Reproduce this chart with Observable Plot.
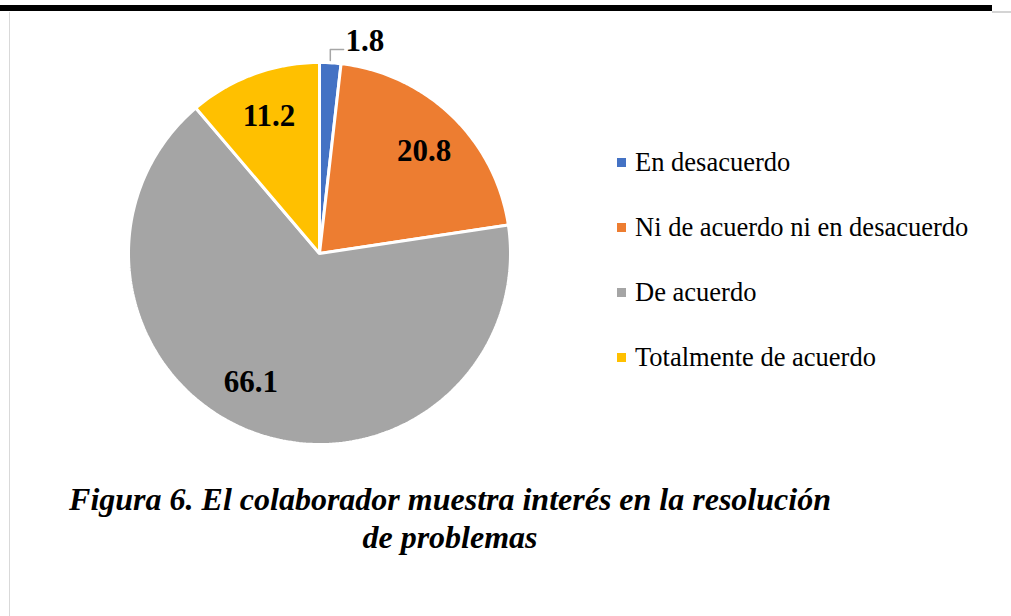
<!DOCTYPE html>
<html>
<head>
<meta charset="utf-8">
<script src="https://cdn.jsdelivr.net/npm/d3@7"></script>
<script src="https://cdn.jsdelivr.net/npm/@observablehq/plot@0.6"></script>
<style>
  html, body { margin: 0; padding: 0; background: #fff; }
  body { width: 1011px; height: 616px; position: relative; overflow: hidden; font-family: 'Liberation Serif'; }
  #topbar { position: absolute; left: 0; top: 5px; width: 992px; height: 6px; background: #000; }
  #topbar2 { position: absolute; left: 992px; top: 11px; width: 19px; height: 2px; background: #d4d4d4; }
  #leftline { position: absolute; left: 9px; top: 12px; width: 1px; height: 604px; background: #d9d9d9; }
  #chart { position: absolute; left: 0; top: 0; }
  #legend { position: absolute; left: 617px; top: 0; }
  .item { position: absolute; left: 0; white-space: nowrap; font-size: 26.5px; line-height: 26px; color: #000; font-family: 'Liberation Serif'; }
  .sw { position: absolute; left: 0; top: 9px; width: 9px; height: 9px; }
  .lbl { position: absolute; left: 18px; top: 0; font-family: 'Liberation Serif'; }
  #caption { position: absolute; left: 0; width: 900px; top: 480px; text-align: center; font-family: 'Liberation Serif'; font-weight: bold; font-style: italic; font-size: 32px; line-height: 38px; color: #000; }
</style>
</head>
<body>
<div id="topbar"></div>
<div id="topbar2"></div>
<div id="leftline"></div>
<div id="chart"></div>
<div id="legend"></div>
<div id="caption">Figura 6. El colaborador muestra interés en la resolución<br>de problemas</div>
<script>
// ---- data ----
const categories = ["En desacuerdo", "Ni de acuerdo ni en desacuerdo", "De acuerdo", "Totalmente de acuerdo"];
const values = [1.8, 20.8, 66.1, 11.2];
const labels = ["1.8", "20.8", "66.1", "11.2"];
const colors = ["#4472C4", "#ED7D31", "#A5A5A5", "#FFC000"];

// ---- layout ----
const W = 1011, H = 470;
const CX = 319, CY = 253, R = 191; // pixel center and radius
const xDomain = [-CX / R, (W - CX) / R];
const yDomain = [-(H - CY) / R, CY / R];
// small angular nudges (radians) that mimic the spreadsheet's label placement
const labelNudge = {"66.1": 0.13, "20.8": 0.03, "11.2": 0.0};
const labelRadius = 0.765;

// ---- pie geometry (angles clockwise from 12 o'clock) ----
const total = d3.sum(values);
let acc = 0;
const slices = values.map((v, i) => {
  const a0 = acc / total * 2 * Math.PI;
  acc += v;
  const a1 = acc / total * 2 * Math.PI;
  return {cat: categories[i], value: v, label: labels[i], a0, a1, mid: (a0 + a1) / 2};
});

const polyPts = [];
for (const s of slices) {
  polyPts.push({cat: s.cat, x: 0, y: 0});
  const n = Math.max(4, Math.ceil((s.a1 - s.a0) / (Math.PI / 180)));
  for (let k = 0; k <= n; k++) {
    const a = s.a0 + (s.a1 - s.a0) * k / n;
    polyPts.push({cat: s.cat, x: Math.sin(a), y: Math.cos(a)});
  }
}

const inside = slices.filter(s => s.value >= 5).map(s => {
  const a = s.mid + (labelNudge[s.label] || 0);
  return {label: s.label, x: labelRadius * Math.sin(a), y: labelRadius * Math.cos(a)};
});
const small = slices.filter(s => s.value < 5);
const leaderPts = [];
const outside = [];
small.forEach((s, i) => {
  const ex = Math.sin(s.mid), ey = Math.cos(s.mid);
  leaderPts.push({g: i, x: ex, y: ey + 0.012});
  leaderPts.push({g: i, x: ex, y: 1.068});
  leaderPts.push({g: i, x: 0.126, y: 1.068});
  outside.push({label: s.label, x: 0.238, y: 1.11});
});

const plot = Plot.plot({
  width: W,
  height: H,
  margin: 0,
  style: {fontFamily: "Liberation Serif", background: "transparent"},
  x: {domain: xDomain, range: [0, W], axis: null},
  y: {domain: yDomain, range: [H, 0], axis: null},
  color: {domain: categories, range: colors},
  marks: [
    Plot.line(polyPts, {x: "x", y: "y", z: "cat", fill: "cat", stroke: "white", strokeWidth: 3, curve: "linear-closed", strokeLinejoin: "miter"}),
    Plot.line(leaderPts, {x: "x", y: "y", z: "g", stroke: "#a6a6a6", strokeWidth: 1.5}),
    Plot.text(inside, {x: "x", y: "y", text: "label", fontSize: 31, fontWeight: "bold", fontFamily: "Liberation Serif", fill: "#000"}),
    Plot.text(outside, {x: "x", y: "y", text: "label", fontSize: 31, fontWeight: "bold", fontFamily: "Liberation Serif", fill: "#000"})
  ]
});
document.getElementById("chart").appendChild(plot);

// ---- legend ----
const legend = document.getElementById("legend");
const legendTops = [149, 214, 279, 344];
categories.forEach((c, i) => {
  const item = document.createElement("div");
  item.className = "item";
  item.style.top = legendTops[i] + "px";
  const sw = document.createElement("div");
  sw.className = "sw";
  sw.style.background = colors[i];
  const t = document.createElement("div");
  t.className = "lbl";
  t.textContent = c;
  item.appendChild(sw);
  item.appendChild(t);
  legend.appendChild(item);
});
</script>
</body>
</html>
